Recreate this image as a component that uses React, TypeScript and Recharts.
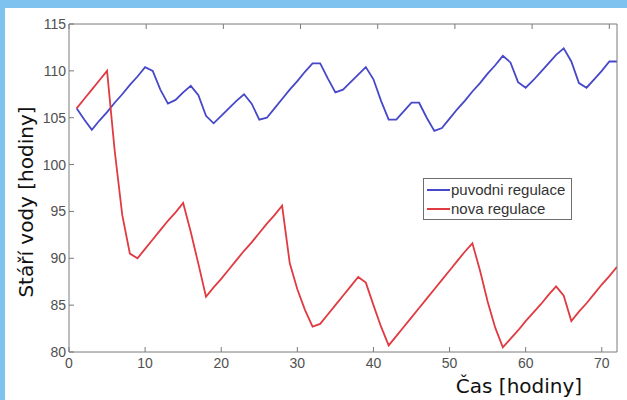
import { LineChart, Line, XAxis, YAxis, Legend } from 'recharts';

// cas [hodiny]
const hours = Array.from({ length: 72 }, (_, i) => i + 1);

// stari vody - puvodni regulace
const puvodni = [
  106.0, 104.8, 103.7, 104.7, 105.6, 106.6, 107.5, 108.5, 109.4, 110.4,
  110.0, 108.0, 106.5, 106.9, 107.7, 108.4, 107.4, 105.2, 104.4, 105.2,
  106.0, 106.8, 107.5, 106.5, 104.8, 105.0, 106.0, 107.0, 108.0, 108.9,
  109.9, 110.8, 110.8, 109.2, 107.7, 108.0, 108.8, 109.6, 110.4, 109.1,
  106.8, 104.8, 104.8, 105.7, 106.6, 106.6, 105.0, 103.6, 103.9, 104.9,
  105.9, 106.8, 107.8, 108.7, 109.7, 110.6, 111.6, 110.9, 108.8, 108.2,
  109.0, 109.9, 110.8, 111.7, 112.4, 111.0, 108.7, 108.2, 109.1, 110.0,
  111.0, 111.0,
];

// stari vody - nova regulace
const nova = [
  106.0, 107.0, 108.0, 109.0, 110.0, 101.5, 94.6, 90.5, 90.0, 91.0,
  92.0, 93.0, 94.0, 94.9, 95.9, 92.8, 89.4, 85.9, 86.9, 87.8,
  88.8, 89.8, 90.8, 91.7, 92.7, 93.7, 94.6, 95.6, 89.5, 86.7,
  84.5, 82.7, 83.0, 84.0, 85.0, 86.0, 87.0, 88.0, 87.4, 85.0,
  82.7, 80.7, 81.7, 82.7, 83.7, 84.7, 85.7, 86.7, 87.7, 88.7,
  89.7, 90.7, 91.6, 88.7, 85.4, 82.6, 80.5, 81.4, 82.3, 83.3,
  84.2, 85.1, 86.1, 87.0, 86.0, 83.3, 84.3, 85.2, 86.2, 87.2,
  88.1, 89.1,
];

const xTicks = [0, 10, 20, 30, 40, 50, 60, 70];
const yTicks = [80, 85, 90, 95, 100, 105, 110, 115];

const BLUE = '#4747c9';
const RED = '#e03a42';
const AXIS = '#7a7a7a';

const data = hours.map((h, i) => ({ t: h, puvodni: puvodni[i], nova: nova[i] }));

const tickStyle = { fontFamily: 'Liberation Sans, Arial, sans-serif', fontSize: 14, fill: '#505050' };
const blank = () => '';

function LegendBox() {
  const rows = [
    { name: 'puvodni regulace', color: BLUE },
    { name: 'nova regulace', color: RED },
  ];
  return (
    <div
      style={{
        width: 149,
        height: 42,
        boxSizing: 'border-box',
        border: '1px solid #6e6e6e',
        background: '#fff',
        padding: '1px 0 0 3px',
        fontFamily: 'Liberation Sans, Arial, sans-serif',
        fontSize: 15,
        color: '#333',
      }}
    >
      {rows.map(r => (
        <div key={r.name} style={{ display: 'flex', alignItems: 'center', height: 19 }}>
          <span style={{ display: 'inline-block', width: 23, height: 2, background: r.color, marginRight: 1 }} />
          <span style={{ whiteSpace: 'nowrap' }}>{r.name}</span>
        </div>
      ))}
    </div>
  );
}

export default function App() {
  return (
    <div style={{ position: 'relative', width: 627, height: 400, background: '#7ec3f0', overflow: 'hidden' }}>
      <style>{'body{margin:0}'}</style>
      <div style={{ position: 'absolute', left: 5, top: 8, width: 622, height: 392, background: '#fff' }}>
        <LineChart width={622} height={392} data={data} margin={{ top: 15, right: 9, left: 14, bottom: 18 }}>
          <XAxis
            xAxisId="x"
            dataKey="t"
            type="number"
            domain={[0, 72]}
            ticks={xTicks}
            allowDataOverflow
            height={30}
            stroke={AXIS}
            tickSize={-5}
            tickMargin={11}
            tick={tickStyle}
          />
          <XAxis
            xAxisId="x2"
            orientation="top"
            type="number"
            domain={[0, 72]}
            ticks={xTicks}
            height={1}
            stroke={AXIS}
            tickSize={-5}
            tickFormatter={blank}
          />
          <YAxis
            yAxisId="y"
            type="number"
            domain={[80, 115]}
            ticks={yTicks}
            allowDataOverflow
            width={50}
            stroke={AXIS}
            tickSize={-5}
            tickMargin={8}
            tick={tickStyle}
          />
          <YAxis
            yAxisId="y2"
            orientation="right"
            type="number"
            domain={[80, 115]}
            ticks={yTicks}
            width={1}
            stroke={AXIS}
            tickSize={-5}
            tickFormatter={blank}
          />
          <Legend
            layout="horizontal"
            verticalAlign="middle"
            align="center"
            content={() => <LegendBox />}
            wrapperStyle={{ left: 418, top: 170, width: 149, height: 42 }}
          />
          <Line
            xAxisId="x"
            yAxisId="y"
            type="linear"
            dataKey="puvodni"
            name="puvodni regulace"
            stroke={BLUE}
            strokeWidth={1.8}
            dot={false}
            isAnimationActive={false}
          />
          <Line
            xAxisId="x"
            yAxisId="y"
            type="linear"
            dataKey="nova"
            name="nova regulace"
            stroke={RED}
            strokeWidth={1.8}
            dot={false}
            isAnimationActive={false}
          />
        </LineChart>
      </div>
      <div style={{ position: 'absolute', left: 26, top: 202, width: 0, height: 0 }}>
        <div
          style={{
            position: 'absolute',
            transform: 'translate(-50%, -50%) rotate(-90deg)',
            whiteSpace: 'nowrap',
            fontFamily: 'DejaVu Sans, sans-serif',
            fontSize: 20,
            color: '#111',
          }}
        >
          Stáří vody [hodiny]
        </div>
      </div>
      <div style={{ position: 'absolute', left: 519, top: 386, width: 0, height: 0 }}>
        <div
          style={{
            position: 'absolute',
            transform: 'translate(-50%, -50%)',
            whiteSpace: 'nowrap',
            fontFamily: 'DejaVu Sans, sans-serif',
            fontSize: 20,
            color: '#111',
          }}
        >
          Čas [hodiny]
        </div>
      </div>
    </div>
  );
}
